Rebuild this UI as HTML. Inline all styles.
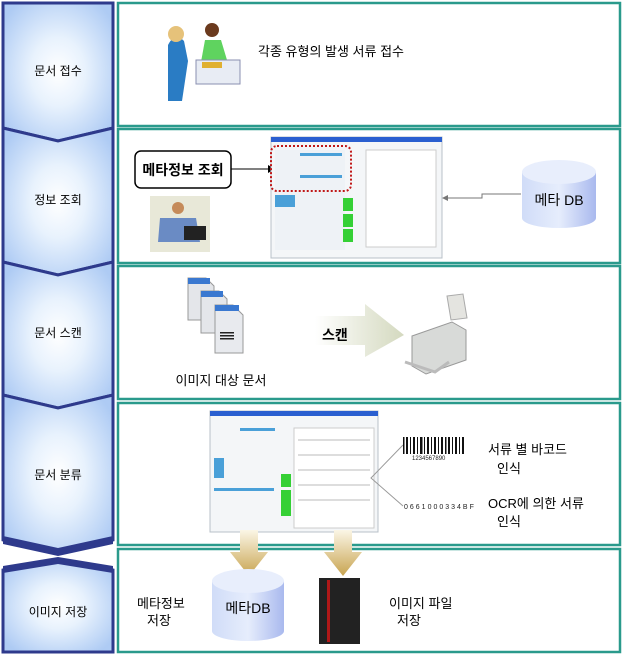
<!DOCTYPE html>
<html><head><meta charset="utf-8"><style>
html,body{margin:0;padding:0;background:#fff}
svg{display:block}
text{font-family:"Liberation Sans","Noto Sans CJK KR",sans-serif}
</style></head><body>
<svg width="624" height="656" viewBox="0 0 624 656" xmlns="http://www.w3.org/2000/svg">
<defs>
<radialGradient id="lg" cx="50%" cy="50%" r="62%">
<stop offset="0" stop-color="#ffffff"/><stop offset="0.4" stop-color="#e8f2fd"/><stop offset="1" stop-color="#aecbf4"/>
</radialGradient>
<linearGradient id="cyl" x1="0" x2="1"><stop offset="0" stop-color="#d0dcf8"/><stop offset="0.5" stop-color="#e6edfc"/><stop offset="1" stop-color="#a9b9ee"/></linearGradient>
<linearGradient id="gold" x1="0" x2="0" y1="0" y2="1"><stop offset="0" stop-color="#fbf6e6"/><stop offset="1" stop-color="#c8a450"/></linearGradient>
<linearGradient id="scan" x1="0" x2="1"><stop offset="0" stop-color="#fff"/><stop offset="1" stop-color="#d4d9bf"/></linearGradient>
</defs>
<rect width="624" height="656" fill="#fff"/>
<!-- left column -->
<g stroke="#2e3a8c" stroke-width="3" fill="url(#lg)" stroke-linejoin="miter">
<polygon points="3,3 113,3 113,128 58,141 3,128"/>
<polygon points="3,128 58,141 113,128 113,262 58,275 3,262"/>
<polygon points="3,262 58,275 113,262 113,395 58,408 3,395"/>
<polygon points="3,395 58,408 113,395 113,540 58,553 3,540"/>
<polygon points="3,570 58,560 113,570 113,652 3,652"/>
</g>
<polygon points="3,536 58,548 113,536 113,544 58,556 3,544" fill="#2e3a8c"/>
<polygon points="3,566 58,557 113,566 113,573 58,564 3,573" fill="#2e3a8c"/>
<g font-size="12" text-anchor="middle" fill="#000">
<text x="58" y="75">문서 접수</text>
<text x="58" y="204">정보 조회</text>
<text x="58" y="337">문서 스캔</text>
<text x="58" y="479">문서 분류</text>
<text x="58" y="616">이미지 저장</text>
</g>
<!-- frames -->
<g fill="none" stroke="#2a9a8c" stroke-width="2.5">
<rect x="118" y="3" width="502" height="123"/>
<rect x="118" y="129" width="502" height="134"/>
<rect x="118" y="266" width="502" height="133"/>
<rect x="118" y="403" width="502" height="142"/>
<rect x="118" y="549" width="502" height="103"/>
</g>
<!-- row1 -->
<g>
<path d="M168,45 q7,-14 16,-4 l4,20 l-6,40 l-14,0 z" fill="#2a7cc4"/>
<circle cx="176" cy="34" r="8" fill="#e6c27a"/>
<path d="M205,40 l16,0 l6,20 l-26,2 z" fill="#5fd35f"/>
<circle cx="212" cy="30" r="7" fill="#6b3a1e"/>
<rect x="196" y="60" width="44" height="24" fill="#e8ecf4" stroke="#8a8fb0"/>
<rect x="202" y="62" width="20" height="6" fill="#e0b030"/>
</g>
<text x="258" y="56" font-size="13">각종 유형의 발생 서류 접수</text>
<!-- row2 -->
<rect x="135" y="151" width="96" height="37" rx="6" fill="#fff" stroke="#000" stroke-width="1.5"/>
<text x="183" y="175" font-size="14" font-weight="bold" text-anchor="middle">메타정보 조회</text>
<line x1="231" y1="169" x2="268" y2="169" stroke="#000"/>
<polygon points="268,165 275,169 268,173"/>
<rect x="150" y="196" width="60" height="56" fill="#e8e8d8"/>
<circle cx="178" cy="208" r="6" fill="#c58b5a"/>
<path d="M160,218 l36,0 l4,24 l-42,0 z" fill="#6a8bc4"/>
<rect x="184" y="226" width="22" height="14" fill="#222"/>
<g>
<rect x="271" y="137" width="171" height="121" fill="#f4f6f8" stroke="#b8c0c8"/>
<rect x="271" y="137" width="171" height="5" fill="#2a5fd0"/>
<rect x="275" y="150" width="70" height="100" fill="#eef2f6"/>
<g fill="#4aa0d8"><rect x="300" y="153" width="42" height="3"/><rect x="300" y="175" width="42" height="3"/><rect x="275" y="195" width="20" height="12"/></g>
<g fill="#35d035"><rect x="343" y="198" width="10" height="13"/><rect x="343" y="214" width="10" height="13"/><rect x="343" y="229" width="10" height="13"/></g>
<rect x="366" y="150" width="70" height="97" fill="#fff" stroke="#ccc"/>
<rect x="271" y="146" width="80" height="45" rx="6" fill="none" stroke="#c01818" stroke-width="2" stroke-dasharray="2,2"/>
</g>
<polyline points="521,194 482,194 482,198 448,198" fill="none" stroke="#777"/>
<polygon points="448,195 442,198 448,201" fill="#777"/>
<path d="M522,172 v46 a37,10 0 0 0 74,0 v-46" fill="url(#cyl)"/>
<ellipse cx="559" cy="172" rx="37" ry="12" fill="#e8eefc"/>
<text x="559" y="205" font-size="14" text-anchor="middle">메타 DB</text>
<!-- row3 -->
<g>
<path d="M188,278 h18 l8,8 v34 h-26z" fill="#e4e6ea" stroke="#999"/>
<rect x="188" y="278" width="22" height="6" fill="#3a78d0"/>
<path d="M201,291 h18 l8,8 v34 h-26z" fill="#e4e6ea" stroke="#999"/>
<rect x="201" y="291" width="22" height="6" fill="#3a78d0"/>
<path d="M215,305 h18 l10,10 v38 h-28z" fill="#e8eaee" stroke="#999"/>
<rect x="215" y="305" width="24" height="6" fill="#3a78d0"/>
<g fill="#222"><rect x="220" y="332" width="14" height="1.5"/><rect x="220" y="335" width="14" height="1.5"/><rect x="220" y="338" width="14" height="1.5"/></g>
</g>
<text x="221" y="385" font-size="13" text-anchor="middle">이미지 대상 문서</text>
<polygon points="315,316 365,316 365,304 404,335 365,357 365,345 315,345" fill="url(#scan)"/>
<text x="322" y="340" font-size="14" font-weight="bold">스캔</text>
<path d="M412,336 l40,-14 l14,8 l0,30 l-40,14 l-14,-8 z" fill="#d8dad8" stroke="#999"/>
<path d="M447,296 l16,-2 l4,24 l-16,2z" fill="#e4e4e0" stroke="#aaa"/>
<path d="M405,362 l30,10 l14,-10" fill="none" stroke="#bbb" stroke-width="3"/>
<!-- row4 -->
<g>
<rect x="210" y="411" width="168" height="121" fill="#f4f6f8" stroke="#b8c0c8"/>
<rect x="210" y="411" width="168" height="5" fill="#2a5fd0"/>
<g fill="#4aa0d8"><rect x="240" y="428" width="35" height="3"/><rect x="214" y="458" width="10" height="20"/><rect x="214" y="488" width="60" height="3"/></g>
<g fill="#35d035"><rect x="281" y="474" width="10" height="13"/><rect x="281" y="490" width="10" height="13"/><rect x="281" y="503" width="10" height="13"/></g>
<rect x="294" y="428" width="80" height="100" fill="#fff" stroke="#ccc"/>
<g stroke="#bbb"><line x1="298" y1="440" x2="370" y2="440"/><line x1="298" y1="455" x2="370" y2="455"/><line x1="298" y1="470" x2="370" y2="470"/><line x1="298" y1="485" x2="370" y2="485"/><line x1="298" y1="500" x2="370" y2="500"/></g>
</g>
<polyline points="403,445 371,478 403,506" fill="none" stroke="#999"/>
<g fill="#111">
<rect x="403" y="437" width="1.5" height="17"/><rect x="406" y="437" width="2" height="17"/><rect x="410" y="437" width="1" height="17"/><rect x="413" y="437" width="2" height="17"/><rect x="417" y="437" width="1" height="17"/><rect x="420" y="437" width="2.5" height="17"/><rect x="424" y="437" width="1" height="17"/><rect x="427" y="437" width="2" height="17"/><rect x="431" y="437" width="1" height="17"/><rect x="434" y="437" width="2" height="17"/><rect x="438" y="437" width="1" height="17"/><rect x="441" y="437" width="2" height="17"/><rect x="445" y="437" width="1.5" height="17"/><rect x="448" y="437" width="2" height="17"/><rect x="452" y="437" width="1" height="17"/><rect x="455" y="437" width="2" height="17"/><rect x="459" y="437" width="1" height="17"/><rect x="462" y="437" width="2" height="17"/>
</g>
<text x="412" y="460" font-size="6" fill="#222">1234567890</text>
<text x="404" y="509" font-size="7" fill="#222" letter-spacing="2">0661000334BF</text>
<g font-size="13">
<text x="488" y="454">서류 별 바코드</text>
<text x="497" y="473">인식</text>
<text x="488" y="508">OCR에 의한 서류</text>
<text x="497" y="526">인식</text>
</g>
<!-- arrows -->
<g fill="url(#gold)">
<polygon points="240,530 258,530 258,552 268,552 249,576 230,552 240,552"/>
<polygon points="334,530 352,530 352,552 362,552 343,576 324,552 334,552"/>
</g>
<!-- row5 -->
<text x="137" y="608" font-size="13">메타정보</text>
<text x="147" y="625" font-size="13">저장</text>
<path d="M212,581 v50 a36,10 0 0 0 72,0 v-50" fill="url(#cyl)"/>
<ellipse cx="248" cy="581" rx="36" ry="12" fill="#e8eefc"/>
<text x="248" y="613" font-size="14" text-anchor="middle">메타DB</text>
<rect x="319" y="578" width="41" height="66" fill="#222"/>
<rect x="327" y="580" width="3" height="62" fill="#b01818"/>
<text x="389" y="608" font-size="13">이미지 파일</text>
<text x="397" y="625" font-size="13">저장</text>
</svg>
</body></html>
